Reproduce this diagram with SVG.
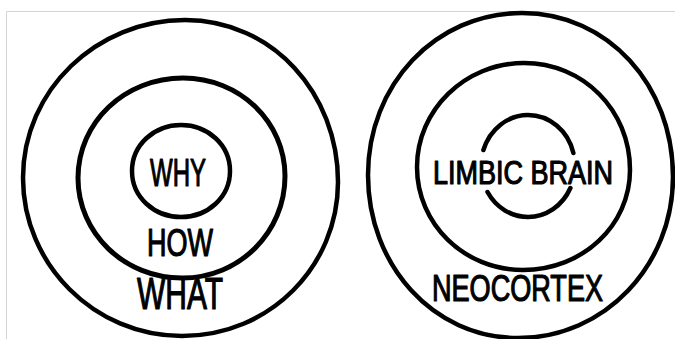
<svg xmlns="http://www.w3.org/2000/svg" width="675" height="339" viewBox="0 0 675 339">
  <style>
    .ring { fill: none; stroke: #000; stroke-width: 4.5; stroke-linecap: round; stroke-linejoin: round; }
    .lbl { font-family: "Liberation Sans", "DejaVu Sans", sans-serif; fill: #000; stroke: #000; stroke-width: 1.2; stroke-linejoin: round; }
    .frame { stroke: #d4d4d4; stroke-width: 1; fill: none; }
  </style>
  <rect x="0" y="0" width="675" height="339" fill="#fff"/>
  <path class="frame" d="M6.5,339 V11.5 H675"/>

  <g id="why-how-what">
    <g id="what-ring">
      <path class="ring" d="M23,178 C23,90 97,20 185,20 C273,20 338,94 338,182 C338,266 270,336 182,336 C94,336 23,264 23,178 Z"/>
      <text class="lbl" x="137" y="309" font-size="44" textLength="86" lengthAdjust="spacingAndGlyphs">WHAT</text>
    </g>
    <g id="how-ring">
      <path class="ring" d="M78,178 C78,122 125,78 183,78 C240,78 285,122 285,176 C285,232 240,278 182,278 C124,278 78,233 78,178 Z" style="stroke-width:5"/>
      <text class="lbl" x="147" y="256" font-size="39" textLength="66" lengthAdjust="spacingAndGlyphs">HOW</text>
    </g>
    <g id="why-ring">
      <path class="ring" d="M132,171 C132,145 154,125 181,125 C208,125 230,145 230,171 C230,197 208,217 181,217 C154,217 132,197 132,171 Z"/>
      <text class="lbl" x="150" y="186" font-size="39" textLength="56" lengthAdjust="spacingAndGlyphs">WHY</text>
    </g>
  </g>

  <g id="brain">
    <g id="neocortex-ring">
      <path class="ring" d="M368,175 C368,85 435,13 522,13 C608,13 673,85 673,177 C673,265 605,338 518,338 C433,338 368,265 368,175 Z"/>
      <text class="lbl" x="432" y="301" font-size="36" textLength="171" lengthAdjust="spacingAndGlyphs">NEOCORTEX</text>
    </g>
    <g id="middle-ring">
      <path class="ring" d="M417,167 C417,110 465,63 524,63 C583,63 630,110 630,170 C630,225 583,270 523,270 C464,270 417,224 417,167 Z"/>
    </g>
    <g id="limbic">
      <path class="ring" d="M483.4,150 C489.8,129.1 507.8,115 528,115 C549.3,115 568,130.6 573.4,153"/>
      <path class="ring" d="M487.5,192 C496,207.5 511.4,217 528,217 C546.1,217 562.6,205.7 570.4,188"/>
      <text class="lbl" x="433" y="184" font-size="33" textLength="180" lengthAdjust="spacingAndGlyphs">LIMBIC BRAIN</text>
    </g>
  </g>

  <g id="connectors"></g>
</svg>
